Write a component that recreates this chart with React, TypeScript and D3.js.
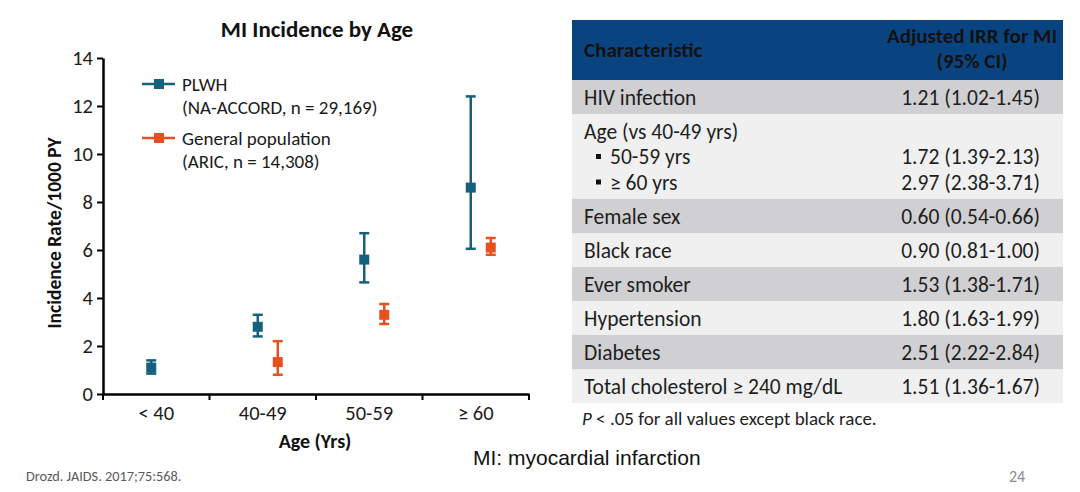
import React, { useEffect, useRef } from 'react';
import * as d3 from 'd3';

const ageGroups = ['< 40', '40-49', '50-59', '≥ 60'];
const plwhRate = [1.1, 2.8, 5.6, 8.6];
const plwhLow = [0.85, 2.4, 4.65, 6.05];
const plwhHigh = [1.4, 3.3, 6.7, 12.4];
const genAges = ['40-49', '50-59', '≥ 60'];
const genRate = [1.33, 3.3, 6.1];
const genLow = [0.8, 2.92, 5.8];
const genHigh = [2.2, 3.75, 6.5];
const yTicks = [0, 2, 4, 6, 8, 10, 12, 14];

const tableLabels = [
  ['HIV infection'],
  ['Age (vs 40-49 yrs)', '50-59 yrs', '≥ 60 yrs'],
  ['Female sex'],
  ['Black race'],
  ['Ever smoker'],
  ['Hypertension'],
  ['Diabetes'],
  ['Total cholesterol ≥ 240 mg/dL'],
];
const tableValues = [
  ['1.21 (1.02-1.45)'],
  ['', '1.72 (1.39-2.13)', '2.97 (2.38-3.71)'],
  ['0.60 (0.54-0.66)'],
  ['0.90 (0.81-1.00)'],
  ['1.53 (1.38-1.71)'],
  ['1.80 (1.63-1.99)'],
  ['2.51 (2.22-2.84)'],
  ['1.51 (1.36-1.67)'],
];

const TEAL = '#14607d';
const ORANGE = '#e8501f';
const FONT = 'Carlito, Lato, sans-serif';

const App: React.FC = () => {
  const svgRef = useRef<SVGSVGElement>(null);

  useEffect(() => {
    if (!svgRef.current) return;
    const svg = d3.select(svgRef.current);
    svg.selectAll('*').remove();

    const left = 103, right = 529, top = 58, bottom = 394;
    const x = d3.scaleBand().domain(ageGroups).range([left, right]);
    const y = d3.scaleLinear().domain([0, 14]).range([bottom, top]);
    const cx = (g: string) => x(g)! + x.bandwidth() / 2;

    // title
    svg.append('text')
      .attr('x', 317).attr('y', 37)
      .attr('text-anchor', 'middle')
      .attr('font-family', FONT).attr('font-weight', 'bold').attr('font-size', 23)
      .attr('fill', '#111')
      .text('MI Incidence by Age');

    // y axis
    const ya = svg.append('g')
      .attr('transform', `translate(${left},0)`)
      .call(d3.axisLeft(y).tickValues(yTicks).tickSize(6).tickPadding(4).tickSizeOuter(0));
    ya.select('.domain').attr('stroke', '#000').attr('stroke-width', 2.5);
    ya.selectAll('.tick line').attr('stroke', '#000').attr('stroke-width', 2);
    ya.selectAll('.tick text').attr('font-family', FONT).attr('font-size', 20.5).attr('fill', '#1a1a1a');

    // x axis
    const xa = svg.append('g')
      .attr('transform', `translate(0,${bottom})`)
      .call(d3.axisBottom(x).tickSize(0).tickPadding(11));
    xa.select('.domain').attr('stroke', '#000').attr('stroke-width', 2.5);
    xa.selectAll('.tick text').attr('font-family', FONT).attr('font-size', 20.5).attr('fill', '#1a1a1a');
    const edges = ageGroups.map(g => x(g)!).concat([x.range()[1]]);
    xa.selectAll('.edge').data(edges).enter().append('line')
      .attr('x1', d => d).attr('x2', d => d)
      .attr('y1', 0).attr('y2', 6)
      .attr('stroke', '#000').attr('stroke-width', 2);

    svg.append('text')
      .attr('transform', `translate(61,${(top + bottom) / 2 + 7}) rotate(-90)`)
      .attr('text-anchor', 'middle')
      .attr('font-family', FONT).attr('font-weight', 'bold').attr('font-size', 19.5)
      .attr('fill', '#111')
      .text('Incidence Rate/1000 PY');
    svg.append('text')
      .attr('x', 315).attr('y', 448)
      .attr('text-anchor', 'middle')
      .attr('font-family', FONT).attr('font-weight', 'bold').attr('font-size', 20)
      .attr('fill', '#111')
      .text('Age (Yrs)');

    const drawSeries = (cats: string[], rate: number[], low: number[], high: number[], dx: number, color: string) => {
      const g = svg.append('g');
      cats.forEach((c, i) => {
        const px = cx(c) + dx;
        g.append('line').attr('x1', px).attr('x2', px)
          .attr('y1', y(low[i])).attr('y2', y(high[i]))
          .attr('stroke', color).attr('stroke-width', 2.5);
        [low[i], high[i]].forEach(v => {
          g.append('line').attr('x1', px - 5).attr('x2', px + 5)
            .attr('y1', y(v)).attr('y2', y(v))
            .attr('stroke', color).attr('stroke-width', 2.5);
        });
        g.append('rect')
          .attr('x', px - 5).attr('y', y(rate[i]) - 5)
          .attr('width', 10).attr('height', 10)
          .attr('fill', color);
      });
    };
    drawSeries(ageGroups, plwhRate, plwhLow, plwhHigh, -5, TEAL);
    drawSeries(genAges, genRate, genLow, genHigh, 15, ORANGE);

    // legend
    const legend = [
      { color: TEAL, lines: ['PLWH', '(NA-ACCORD, n = 29,169)'], y: 84 },
      { color: ORANGE, lines: ['General population', '(ARIC, n = 14,308)'], y: 138 },
    ];
    legend.forEach(l => {
      svg.append('line').attr('x1', 142).attr('x2', 175).attr('y1', l.y).attr('y2', l.y)
        .attr('stroke', l.color).attr('stroke-width', 2.5);
      svg.append('rect').attr('x', 154).attr('y', l.y - 5).attr('width', 10).attr('height', 10)
        .attr('fill', l.color);
      l.lines.forEach((t, i) => {
        svg.append('text')
          .attr('x', 182).attr('y', l.y + 6.5 + i * 23)
          .attr('font-family', FONT).attr('font-size', 19).attr('fill', '#1a1a1a')
          .text(t);
      });
    });

    // table
    const tx0 = 572, tx1 = 1063, headTop = 20, headBottom = 80;
    const rowH = 34, lineH = 25.5;
    svg.append('rect').attr('x', tx0).attr('y', headTop)
      .attr('width', tx1 - tx0).attr('height', headBottom - headTop)
      .attr('fill', '#0a4480');
    svg.append('text').attr('x', 584).attr('y', 57)
      .attr('font-family', FONT).attr('font-weight', 'bold').attr('font-size', 21).attr('fill', '#111')
      .text('Characteristic');
    ['Adjusted IRR for MI', '(95% CI)'].forEach((t, i) => {
      svg.append('text').attr('x', 972).attr('y', 43 + i * 25)
        .attr('text-anchor', 'middle')
        .attr('font-family', FONT).attr('font-weight', 'bold').attr('font-size', 21).attr('fill', '#111')
        .text(t);
    });

    let ry = headBottom;
    tableLabels.forEach((lines, r) => {
      const h = rowH + (lines.length - 1) * lineH;
      svg.append('rect').attr('x', tx0).attr('y', ry).attr('width', tx1 - tx0).attr('height', h)
        .attr('fill', r % 2 === 0 ? '#d0d0d2' : '#f0f0f0');
      lines.forEach((t, i) => {
        const by = ry + 24.5 + i * lineH;
        const sub = i > 0;
        if (sub) {
          svg.append('rect').attr('x', 596).attr('y', by - 10).attr('width', 5).attr('height', 5).attr('fill', '#111');
        }
        svg.append('text').attr('x', sub ? 610 : 584).attr('y', by)
          .attr('font-family', FONT).attr('font-size', 21.5).attr('fill', '#1e1e1e')
          .text(t);
        svg.append('text').attr('x', 1040).attr('y', by)
          .attr('text-anchor', 'end')
          .attr('font-family', FONT).attr('font-size', 21.5).attr('fill', '#1e1e1e')
          .text(tableValues[r][i]);
      });
      ry += h;
    });

    const note = svg.append('text').attr('x', 582).attr('y', 425)
      .attr('font-family', FONT).attr('font-size', 19).attr('fill', '#1e1e1e');
    note.append('tspan').attr('font-style', 'italic').text('P');
    note.append('tspan').text(' < .05 for all values except black race.');

    svg.append('text').attr('x', 473).attr('y', 465)
      .attr('font-family', 'Liberation Sans, Arial, sans-serif').attr('font-size', 21).attr('fill', '#111')
      .text('MI: myocardial infarction');
    svg.append('text').attr('x', 26).attr('y', 481)
      .attr('font-family', FONT).attr('font-size', 14.3).attr('fill', '#595959')
      .text('Drozd. JAIDS. 2017;75:568.');
    svg.append('text').attr('x', 1009).attr('y', 482)
      .attr('font-family', FONT).attr('font-size', 16).attr('fill', '#8c8c8c')
      .text('24');
  }, []);

  return (
    <svg ref={svgRef} width={1080} height={492}
      style={{ position: 'absolute', left: 0, top: 0, background: '#fff' }} />
  );
};

export default App;
